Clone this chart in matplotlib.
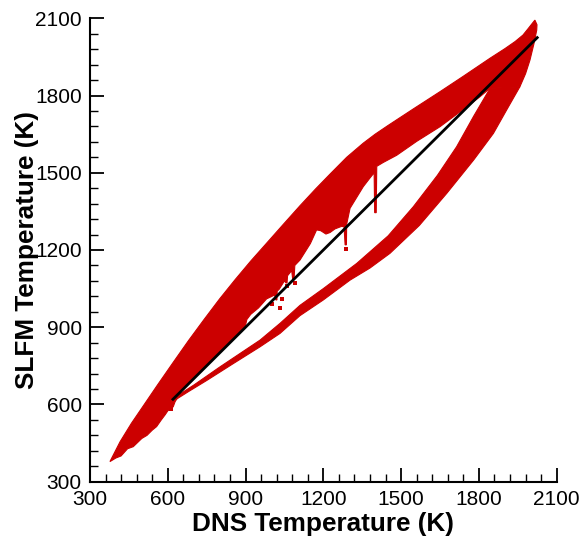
import matplotlib
matplotlib.use("Agg")
import matplotlib.pyplot as plt
from matplotlib.ticker import MultipleLocator

plt.rcParams["font.family"] = ["Liberation Sans", "DejaVu Sans"]

RED = "#cc0000"

# upper band of SLFM vs DNS samples: top edge, right edge, then lower edge back down
band_top_x = [377, 416, 460, 506, 560, 620, 680, 740, 800, 860, 920, 980, 1046, 1110, 1170,
              1226, 1290, 1354, 1400, 1450, 1547, 1650, 1740, 1843, 1900, 1940, 1970, 1990,
              2008, 2016]
band_top_y = [378, 455, 527, 595, 675, 762, 848, 930, 1010, 1085, 1157, 1225, 1300, 1372, 1437,
              1495, 1560, 1615, 1650, 1684, 1748, 1815, 1875, 1945, 1982, 2010, 2035, 2060,
              2083, 2093]
band_right_x = [2024, 2023, 2012, 1997, 1980, 1958]
band_right_y = [2075, 2054, 2000, 1938, 1885, 1834]
band_low_x = [1843, 1800, 1753, 1650, 1560, 1483, 1431, 1406, 1404, 1398, 1396, 1380, 1354,
              1303, 1290, 1289, 1284, 1280, 1271, 1245, 1226, 1210, 1190, 1174, 1150, 1110,
              1090, 1087, 1082, 1078, 1062, 1060, 1056, 1050, 1030, 1022, 1021, 1017, 1012,
              981, 950, 920, 905, 900, 850, 750, 660, 628, 621, 600, 590, 575, 557, 540,
              520, 500, 467, 445, 420, 400, 377]
band_low_y = [1828, 1792, 1756, 1679, 1622, 1568, 1540, 1525, 1345, 1345, 1500, 1480, 1446,
              1362, 1300, 1220, 1220, 1290, 1292, 1282, 1268, 1262, 1275, 1278, 1225, 1161,
              1140, 1085, 1085, 1120, 1100, 1072, 1072, 1080, 1048, 1040, 1006, 1006, 1025,
              1010, 975, 950, 930, 908, 856, 756, 664, 610, 591, 575, 560, 540, 514, 500,
              480, 468, 436, 428, 400, 392, 378]

# lower branch: outer edge going down, inner edge coming back up
branch_out_x = [1958, 1907, 1856, 1780, 1676, 1570, 1457, 1380, 1303, 1200, 1110, 1033, 956,
                850, 750, 680, 628, 605]
branch_out_y = [1834, 1744, 1653, 1550, 1420, 1295, 1187, 1130, 1083, 1006, 945, 876, 824,
                757, 693, 650, 617, 598]
branch_in_x = [640, 700, 800, 956, 1033, 1110, 1200, 1329, 1450, 1547, 1640, 1714, 1780, 1843]
branch_in_y = [636, 675, 745, 850, 915, 985, 1050, 1148, 1255, 1368, 1490, 1601, 1720, 1828]

# isolated samples below the band
dot_x = [1033, 1287, 1060, 1003, 1040, 1092, 612]
dot_y = [973, 1205, 1062, 992, 1010, 1070, 582]

# reference line SLFM = DNS
diag_x = [620, 2025]
diag_y = [620, 2025]

fig = plt.figure(figsize=(5.82, 5.42), dpi=100)
ax = fig.add_axes([0.1546, 0.1113, 0.8019, 0.8549])

ax.fill(band_top_x + band_right_x + band_low_x,
        band_top_y + band_right_y + band_low_y,
        color=RED, lw=0.8, zorder=2)
ax.fill(branch_out_x + branch_in_x, branch_out_y + branch_in_y,
        color=RED, lw=0.8, zorder=2)
ax.scatter(dot_x, dot_y, s=5, marker="s", color=RED, lw=0, zorder=2)
ax.plot(diag_x, diag_y, color="black", lw=2.0, zorder=3)

ax.set_xlim(300, 2100)
ax.set_ylim(300, 2100)
ax.xaxis.set_major_locator(MultipleLocator(300))
ax.xaxis.set_minor_locator(MultipleLocator(60))
ax.yaxis.set_major_locator(MultipleLocator(300))
ax.yaxis.set_minor_locator(MultipleLocator(60))

for side in ["top", "right"]:
    ax.spines[side].set_visible(False)
for side in ["left", "bottom"]:
    ax.spines[side].set_linewidth(1.5)

ax.tick_params(which="major", direction="in", length=10, width=1.3, labelsize=15, pad=6)
ax.tick_params(which="minor", direction="in", length=6, width=1.0)

ax.set_xlabel("DNS Temperature (K)", fontsize=18.8, fontweight="bold", labelpad=2)
ax.set_ylabel("SLFM Temperature (K)", fontsize=18.8, fontweight="bold", labelpad=-3)

fig.savefig("out.png", dpi=100)
